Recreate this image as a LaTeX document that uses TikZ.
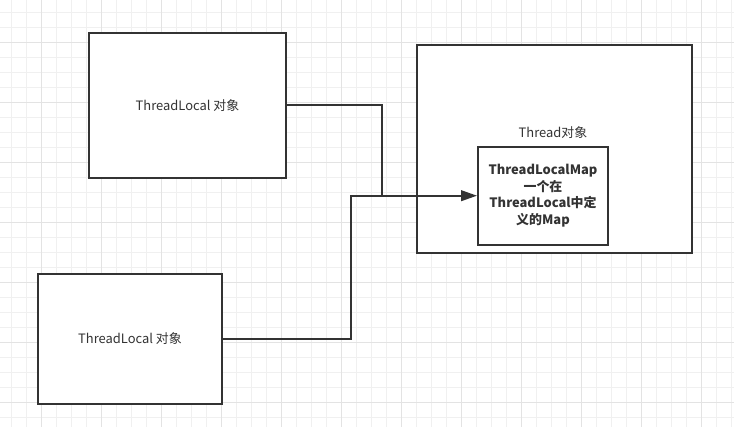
\documentclass[tikz,border=0pt]{standalone}
\usepackage{fontspec}
\setmainfont{Noto Sans CJK SC}
\usepackage{xcolor}
\usepackage{tikz}
\usetikzlibrary{arrows.meta}

\definecolor{ink}{HTML}{333333}
\definecolor{gridminor}{HTML}{F0F0F0}
\definecolor{gridmajor}{HTML}{E3E3E3}

\tikzset{
  objbox/.style={draw=ink, line width=1.5pt, fill=white, text=ink,
    font=\fontsize{9.7pt}{12.3pt}\selectfont, inner sep=0pt},
  link/.style={draw=ink, line width=1.5pt},
}

\begin{document}
\begin{tikzpicture}[x=0.75pt, y=-0.75pt]
      % --- page and grid ---
      \useasboundingbox (0,0) rectangle (734,427);
      \fill[white] (0,0) rectangle (734,427);
      \foreach \gx in {0,...,48}
        \draw[gridminor, line width=0.75pt] (11.7+15*\gx, 0) -- (11.7+15*\gx, 427);
      \foreach \gy in {0,...,27}
        \draw[gridminor, line width=0.75pt] (0, 12.3+15*\gy) -- (734, 12.3+15*\gy);
      \foreach \gx in {0,...,11}
        \draw[gridmajor, line width=0.75pt] (41.7+60*\gx, 0) -- (41.7+60*\gx, 427);
      \foreach \gy in {0,...,6}
        \draw[gridmajor, line width=0.75pt] (0, 42.3+60*\gy) -- (734, 42.3+60*\gy);

      % --- the two ThreadLocal objects ---
      \node[objbox, minimum width=197*0.75pt, minimum height=145*0.75pt] (tlA) at (187.5, 105.5) {ThreadLocal 对象};
      \node[objbox, minimum width=184*0.75pt, minimum height=130*0.75pt] (tlB) at (130, 339) {ThreadLocal 对象};

      % --- thread object with its map ---
      \node[objbox, minimum width=275*0.75pt, minimum height=208*0.75pt] (thread) at (554.5, 148.7) {};
      \node[text=ink, font=\fontsize{9.7pt}{12.3pt}\selectfont] (threadlbl) at (553, 133) {Thread对象};
      \node[objbox, minimum width=130*0.75pt, minimum height=98*0.75pt, align=center,
        font=\fontsize{9.7pt}{12.3pt}\selectfont\bfseries] (map) at (543, 195.7)
        {ThreadLocalMap\\一个在\\ThreadLocal中定\\义的Map};

      % --- connectors, joined before the map ---
      \coordinate (jA) at (381.7, 195.7);
      \coordinate (jB) at (350.7, 195.7);
      \draw[link] (tlA.east) -| (jA);
      \draw[link, -{Triangle[length=12pt, width=8pt]}] (tlB.east) -| (jB) -- (map.west);
    \end{tikzpicture}
\end{document}
